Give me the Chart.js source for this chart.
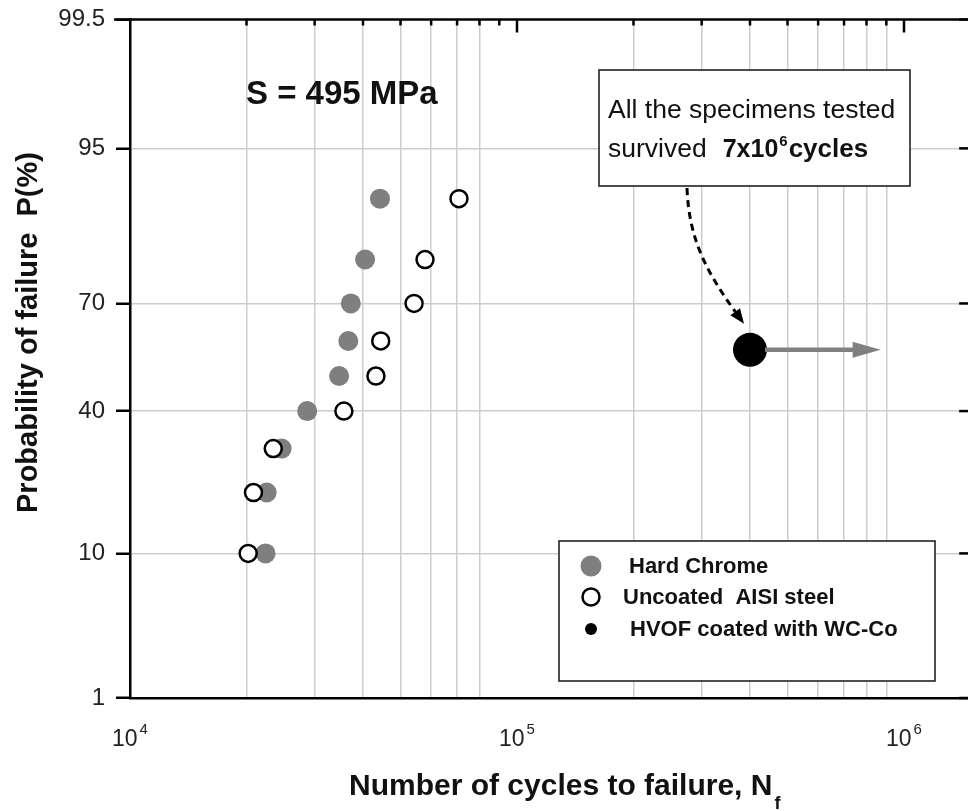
<!DOCTYPE html>
<html>
<head>
  <title>Probability of failure, S = 495 MPa</title>
  <script src="https://cdn.jsdelivr.net/npm/chart.js"></script>
  <style>
    html, body {
      margin: 0;
      padding: 0;
      background: #fff;
      overflow: hidden;
    }
    .wrap {
      position: relative;
      width: 980px;
      height: 811px;
    }
  </style>
</head>
<body>
  <div class="wrap"><canvas id="probChart"></canvas></div>

  <script>
    // probability of failure (%) of each ranked specimen
    const probLevels = [10, 20, 30, 40, 50, 60, 70, 80, 90];
    const hardChromeCycles = [22400, 22550, 24650, 28700, 34700, 36650, 37200, 40500, 44250];
    const uncoatedCycles = [20200, 20850, 23450, 35700, 43200, 44450, 54200, 57850, 70800];
    const hvofCycles = [400000];
    const hvofProb = [57.5];
    const runoutArrowEnd = 870000;

    const yTickLabels = [1, 10, 40, 70, 95, 99.5];
    const xDecades = [1e4, 1e5, 1e6];
    const xMin = 1e4, xMax = 1.5e6;
    const noGridAt = [1e4, 9e4, 1e5, 1e6];

    const FONT = "'Liberation Sans', Arial, Helvetica, sans-serif";
    const gridGray = '#cdcdcd';

    // inverse normal cdf (Acklam) -> normal probability paper
    function probit(p) {
      const a = [-39.69683028665376, 220.9460984245205, -275.9285104469687, 138.3577518672690, -30.66479806614716, 2.506628277459239];
      const b = [-54.47609879822406, 161.5858368580409, -155.6989798598866, 66.80131188771972, -13.28068155288572];
      const c = [-0.007784894002430293, -0.3223964580411365, -2.400758277161838, -2.549732539343734, 4.374664141464968, 2.938163982698783];
      const d = [0.007784695709041462, 0.3224671290700398, 2.445134137142996, 3.754408661907416];
      const lo = 0.02425;
      let q, r;
      if (p < lo) {
        q = Math.sqrt(-2 * Math.log(p));
        return (((((c[0]*q+c[1])*q+c[2])*q+c[3])*q+c[4])*q+c[5]) / ((((d[0]*q+d[1])*q+d[2])*q+d[3])*q+1);
      }
      if (p > 1 - lo) {
        q = Math.sqrt(-2 * Math.log(1 - p));
        return -(((((c[0]*q+c[1])*q+c[2])*q+c[3])*q+c[4])*q+c[5]) / ((((d[0]*q+d[1])*q+d[2])*q+d[3])*q+1);
      }
      q = p - 0.5;
      r = q * q;
      return (((((a[0]*r+a[1])*r+a[2])*r+a[3])*r+a[4])*r+a[5])*q / (((((b[0]*r+b[1])*r+b[2])*r+b[3])*r+b[4])*r+1);
    }

    const xTickValues = [];
    xDecades.forEach(dec => {
      for (let m = 1; m <= 9; m++) {
        if (m * dec <= xMax) xTickValues.push(m * dec);
      }
    });

    const toPoints = (cycles, probs) => cycles.map((n, i) => ({ x: n, y: probit(probs[i] / 100) }));

    function drawArrowHead(ctx, tipX, tipY, angle, len, half) {
      ctx.beginPath();
      ctx.moveTo(tipX, tipY);
      ctx.lineTo(tipX - len * Math.cos(angle) + half * Math.sin(angle), tipY - len * Math.sin(angle) - half * Math.cos(angle));
      ctx.lineTo(tipX - len * Math.cos(angle) - half * Math.sin(angle), tipY - len * Math.sin(angle) + half * Math.cos(angle));
      ctx.closePath();
      ctx.fill();
    }

    const legendRadius = [10.5, 8.5, 6];

    const decorations = {
      id: 'decorations',
      afterDatasetsDraw(chart) {
        const { ctx, chartArea: a, scales: { x, y } } = chart;
        ctx.save();

        // top frame line with inward ticks
        ctx.strokeStyle = '#000';
        ctx.lineWidth = 2.5;
        ctx.beginPath();
        ctx.moveTo(a.left - 16, a.top);
        ctx.lineTo(a.right, a.top);
        ctx.stroke();
        xTickValues.forEach(v => {
          if (v === xMin) return;
          const px = x.getPixelForValue(v);
          const len = xDecades.includes(v) ? 13 : 6;
          ctx.beginPath();
          ctx.moveTo(px, a.top);
          ctx.lineTo(px, a.top + len);
          ctx.stroke();
        });
        // right frame ticks
        yTickLabels.forEach(p => {
          const py = y.getPixelForValue(probit(p / 100));
          ctx.beginPath();
          ctx.moveTo(a.right - 13, py);
          ctx.lineTo(a.right, py);
          ctx.stroke();
        });

        // x tick labels 10^n
        ctx.fillStyle = '#222';
        ctx.textBaseline = 'alphabetic';
        ctx.textAlign = 'left';
        xDecades.forEach(v => {
          const px = x.getPixelForValue(v);
          const exp = String(Math.round(Math.log10(v)));
          ctx.font = '23px ' + FONT;
          const wBase = ctx.measureText('10').width;
          ctx.font = '15px ' + FONT;
          const wExp = ctx.measureText(exp).width;
          const left = px - (wBase + 2 + wExp) / 2;
          ctx.font = '23px ' + FONT;
          ctx.fillText('10', left, 746);
          ctx.font = '15px ' + FONT;
          ctx.fillText(exp, left + wBase + 2, 734);
        });

        // axis titles
        ctx.fillStyle = '#111';
        ctx.font = 'bold 30px ' + FONT;
        const xt = 'Number of cycles to failure, N';
        ctx.fillText(xt, 349, 795);
        const wxt = ctx.measureText(xt).width;
        ctx.font = 'bold 18px ' + FONT;
        ctx.fillText('f', 349 + wxt + 2, 809);

        ctx.save();
        ctx.translate(37, 513);
        ctx.rotate(-Math.PI / 2);
        ctx.font = 'bold 29px ' + FONT;
        ctx.fillText('Probability of failure  P(%)', 0, 0);
        ctx.restore();

        // stress level label
        ctx.font = 'bold 33px ' + FONT;
        ctx.fillText('S = 495 MPa', 246, 104);

        // run-out note box
        ctx.fillStyle = '#fff';
        ctx.fillRect(599, 70, 311, 116);
        ctx.strokeStyle = '#222';
        ctx.lineWidth = 1.6;
        ctx.strokeRect(599, 70, 311, 116);
        ctx.fillStyle = '#111';
        ctx.font = '26.5px ' + FONT;
        ctx.fillText('All the specimens tested', 608, 118);
        ctx.fillText('survived', 608, 157);
        let cx = 608 + ctx.measureText('survived').width + 16;
        ctx.font = 'bold 25px ' + FONT;
        ctx.fillText('7x10', cx, 157);
        cx += ctx.measureText('7x10').width + 1;
        ctx.font = 'bold 15px ' + FONT;
        ctx.fillText('6', cx, 146);
        cx += ctx.measureText('6').width + 1;
        ctx.font = 'bold 26px ' + FONT;
        ctx.fillText('cycles', cx, 157);

        // run-out point arrows
        const hx = x.getPixelForValue(hvofCycles[0]);
        const hy = y.getPixelForValue(probit(hvofProb[0] / 100));
        const tipX = x.getPixelForValue(runoutArrowEnd);
        ctx.strokeStyle = '#808080';
        ctx.fillStyle = '#808080';
        ctx.lineWidth = 4.5;
        ctx.beginPath();
        ctx.moveTo(hx + 15, hy);
        ctx.lineTo(tipX - 24, hy);
        ctx.stroke();
        drawArrowHead(ctx, tipX, hy, 0, 28, 8);

        const p0 = [687, 188], p1 = [689, 238], p2 = [hx - 45, hy - 80];
        const tip = [hx - 6, hy - 26];
        const ang = Math.atan2(tip[1] - p2[1], tip[0] - p2[0]);
        const base = [tip[0] - 14 * Math.cos(ang), tip[1] - 14 * Math.sin(ang)];
        ctx.strokeStyle = '#000';
        ctx.fillStyle = '#000';
        ctx.lineWidth = 3;
        ctx.setLineDash([7, 5]);
        ctx.beginPath();
        ctx.moveTo(p0[0], p0[1]);
        ctx.bezierCurveTo(p1[0], p1[1], p2[0], p2[1], base[0], base[1]);
        ctx.stroke();
        ctx.setLineDash([]);
        drawArrowHead(ctx, tip[0], tip[1], ang, 15, 6);

        // legend
        ctx.fillStyle = '#fff';
        ctx.fillRect(559, 541, 376, 140);
        ctx.strokeStyle = '#222';
        ctx.lineWidth = 1.6;
        ctx.strokeRect(559, 541, 376, 140);
        const rows = [566, 597, 629];
        const textX = [629, 623, 630];
        chart.data.datasets.forEach((ds, i) => {
          ctx.beginPath();
          ctx.arc(591, rows[i], legendRadius[i], 0, Math.PI * 2);
          ctx.fillStyle = ds.backgroundColor;
          ctx.fill();
          if (ds.borderWidth) {
            ctx.lineWidth = ds.borderWidth;
            ctx.strokeStyle = ds.borderColor;
            ctx.stroke();
          }
          ctx.fillStyle = '#111';
          ctx.font = 'bold 22px ' + FONT;
          ctx.textBaseline = 'middle';
          ctx.fillText(ds.label, textX[i], rows[i] + 1);
        });

        ctx.restore();
      }
    };

    new Chart(document.getElementById('probChart'), {
      type: 'scatter',
      data: {
        datasets: [
          {
            label: 'Hard Chrome',
            data: toPoints(hardChromeCycles, probLevels),
            pointRadius: 10,
            backgroundColor: '#7f7f7f',
            borderColor: '#7f7f7f',
            borderWidth: 0,
            order: 3
          },
          {
            label: 'Uncoated  AISI steel',
            data: toPoints(uncoatedCycles, probLevels),
            pointRadius: 8.5,
            backgroundColor: '#fff',
            borderColor: '#000',
            borderWidth: 2.5,
            order: 2
          },
          {
            label: 'HVOF coated with WC-Co',
            data: toPoints(hvofCycles, hvofProb),
            pointRadius: 17,
            backgroundColor: '#000',
            borderColor: '#000',
            borderWidth: 0,
            order: 1
          }
        ]
      },
      options: {
        responsive: true,
        maintainAspectRatio: false,
        animation: false,
        events: [],
        layout: {
          autoPadding: false,
          padding: { top: 19.5, right: 980 - (130 + 387 * Math.log10(xMax / xMin)), left: 0, bottom: 0 }
        },
        plugins: {
          legend: { display: false },
          tooltip: { enabled: false }
        },
        scales: {
          x: {
            type: 'logarithmic',
            position: 'bottom',
            min: xMin,
            max: xMax,
            afterBuildTicks: s => { s.ticks = xTickValues.map(v => ({ value: v })); },
            afterFit: s => { s.height = 811 - 698; },
            ticks: { display: false },
            grid: {
              drawTicks: false,
              lineWidth: 1.5,
              color: c => (c.tick && !noGridAt.includes(c.tick.value)) ? gridGray : 'rgba(0,0,0,0)'
            },
            border: { display: true, color: '#000', width: 2.5 }
          },
          y: {
            type: 'linear',
            position: 'left',
            min: probit(0.01),
            max: probit(0.995),
            afterBuildTicks: s => { s.ticks = yTickLabels.map(p => ({ value: probit(p / 100) })); },
            afterFit: s => {
              s.width = 130;
              s.paddingTop = 0;
              s.paddingBottom = 0;
            },
            ticks: {
              autoSkip: false,
              padding: 11,
              color: '#222',
              font: { family: FONT, size: 24 },
              callback: (v, i) => String(yTickLabels[i])
            },
            grid: {
              drawTicks: true,
              tickLength: 14,
              tickColor: '#000',
              tickWidth: 2.5,
              lineWidth: 1.5,
              color: c => (c.index === 0 || c.index === yTickLabels.length - 1) ? 'rgba(0,0,0,0)' : gridGray
            },
            border: { display: true, color: '#000', width: 2.5 }
          }
        }
      },
      plugins: [decorations]
    });
  </script>
</body>
</html>
